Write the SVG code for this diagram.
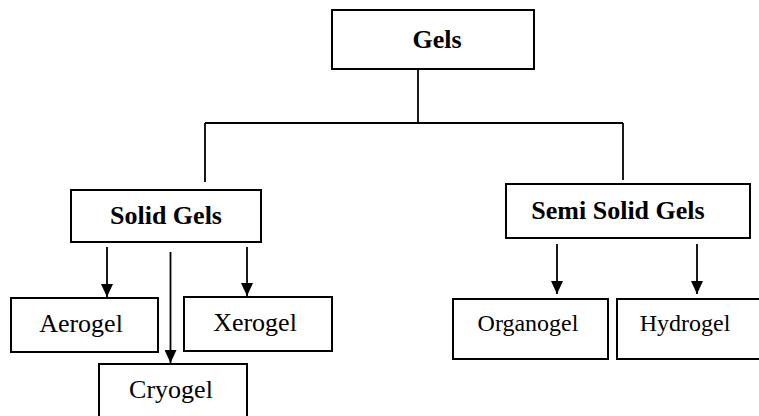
<svg xmlns="http://www.w3.org/2000/svg" width="759" height="416" viewBox="0 0 759 416">
<style>
.box{fill:#fff;stroke:#000;stroke-width:2}
.b{font-family:"Liberation Serif","Times New Roman",serif;font-weight:bold;font-size:26px;text-anchor:middle;fill:#000}
.r{font-family:"Liberation Serif","Times New Roman",serif;font-size:26px;text-anchor:middle;fill:#000}
.ln{stroke:#000;stroke-width:1.8;fill:none}
</style>
<defs>
<marker id="ah" markerWidth="13" markerHeight="12" refX="10" refY="5" orient="auto" markerUnits="userSpaceOnUse" viewBox="0 0 10 10" preserveAspectRatio="none">
<path d="M0,0 L10,5 L0,10 Z" fill="#000"/>
</marker>
</defs>
<rect width="759" height="416" fill="#fff"/>
<g id="connectors">
<line class="ln" x1="418" y1="69" x2="418" y2="123"/>
<line class="ln" x1="205" y1="123" x2="623" y2="123"/>
<line class="ln" x1="205" y1="123" x2="205" y2="182"/>
<line class="ln" x1="623" y1="123" x2="623" y2="180"/>
<line class="ln" x1="107" y1="247" x2="107" y2="297" marker-end="url(#ah)"/>
<line class="ln" x1="247" y1="247" x2="247" y2="296" marker-end="url(#ah)"/>
<line class="ln" x1="170.5" y1="252" x2="170.5" y2="363" stroke-width="1.2" marker-end="url(#ah)"/>
<line class="ln" x1="557" y1="244" x2="557" y2="294" marker-end="url(#ah)"/>
<line class="ln" x1="697" y1="244" x2="697" y2="294" marker-end="url(#ah)"/>
</g>
<g id="gels"><rect class="box" x="332" y="10" width="202" height="59"/><text class="b" x="437" y="48">Gels</text></g>
<g id="solid-gels"><rect class="box" x="71" y="190" width="190" height="52"/><text class="b" x="166" y="224">Solid Gels</text></g>
<g id="semi-solid-gels"><rect class="box" x="506" y="184" width="244" height="54"/><text class="b" x="618" y="219">Semi Solid Gels</text></g>
<g id="aerogel"><rect class="box" x="11" y="298" width="147" height="54"/><text class="r" x="81" y="332">Aerogel</text></g>
<g id="xerogel"><rect class="box" x="184" y="297" width="148" height="54"/><text class="r" x="255" y="331">Xerogel</text></g>
<g id="cryogel"><rect class="box" x="99" y="364" width="148" height="60"/><text class="r" x="171" y="398">Cryogel</text></g>
<g id="organogel"><rect class="box" x="453" y="299" width="155" height="60"/><text class="r" x="528" y="331" style="font-size:24px">Organogel</text></g>
<g id="hydrogel"><rect class="box" x="617" y="299" width="150" height="60"/><text class="r" x="685" y="331" style="font-size:24px">Hydrogel</text></g>
</svg>
